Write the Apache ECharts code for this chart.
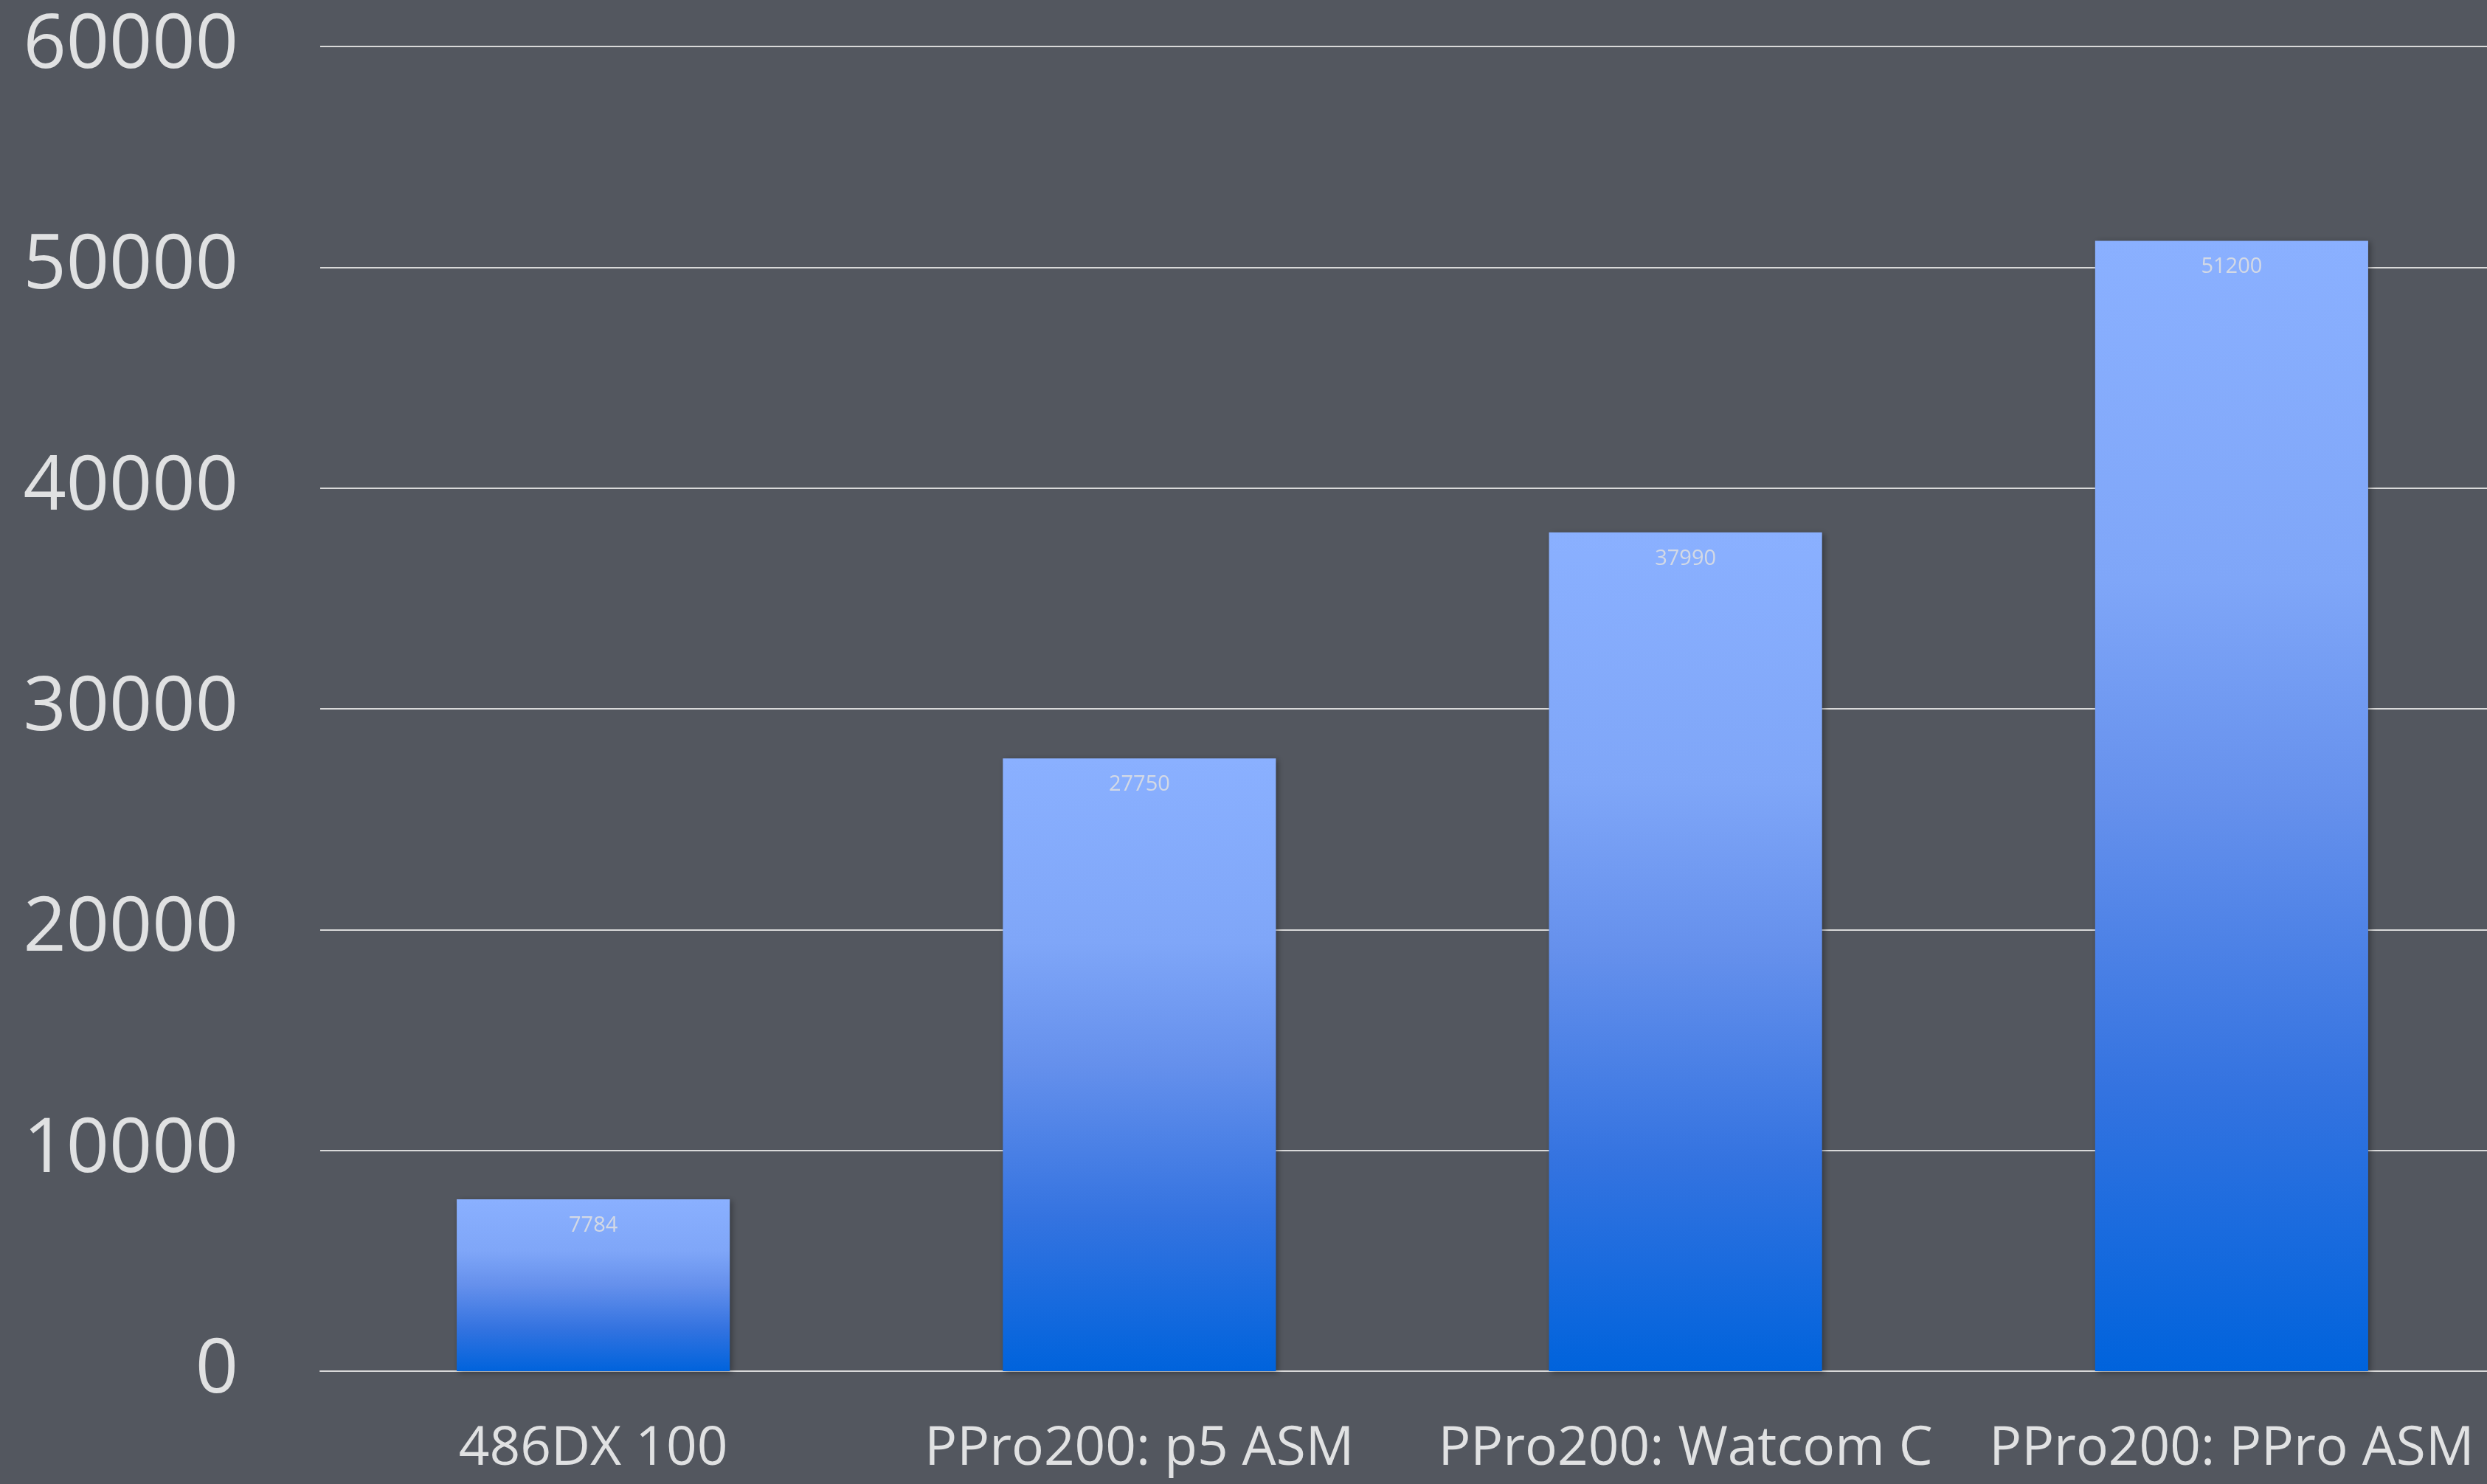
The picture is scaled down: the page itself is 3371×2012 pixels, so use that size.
<!DOCTYPE html>
<html>
<head>
<meta charset="utf-8">
<script src="https://cdn.jsdelivr.net/npm/echarts@6/dist/echarts.min.js"></script>
<style>
  html, body { margin: 0; padding: 0; background: #53575f; overflow: hidden; }
  #main { width: 3371px; height: 2012px; }
</style>
</head>
<body>
<div id="main"></div>
<script>
var categories = ['486DX 100', 'PPro200: p5 ASM', 'PPro200: Watcom C', 'PPro200: PPro ASM'];
var scores = [7784, 27750, 37990, 51200];
var yTicks = [0, 10000, 20000, 30000, 40000, 50000, 60000];

var myChart = echarts.init(document.getElementById('main'));

var option = {
    backgroundColor: '#53575f',
    animation: false,
    grid: {
        left: 434,
        width: 2961,
        top: 63,
        bottom: 153,
        containLabel: false,
        outerBoundsMode: 'none'
    },
    xAxis: {
        type: 'category',
        data: categories,
        axisLine: { show: true, lineStyle: { color: '#d9d9d9', width: 2 } },
        axisTick: { show: false },
        axisLabel: {
            interval: 0,
            color: '#e0e1e2',
            fontFamily: 'Open Sans',
            fontSize: 73,
            margin: 70
        }
    },
    yAxis: {
        type: 'value',
        min: yTicks[0],
        max: yTicks[yTicks.length - 1],
        interval: yTicks[1] - yTicks[0],
        axisLine: { show: false },
        axisTick: { show: false },
        splitLine: { lineStyle: { color: '#d9d9d9', width: 2 } },
        axisLabel: {
            color: '#e0e1e2',
            fontFamily: 'Open Sans',
            fontSize: 102,
            margin: 111,
            formatter: function (v) { return String(v); }
        }
    },
    series: [
        {
            type: 'bar',
            data: scores,
            barWidth: '50%',
            itemStyle: {
                color: new echarts.graphic.LinearGradient(0, 0, 0, 1, [
                    { offset: 0, color: '#8ab0ff' },
                    { offset: 0.3, color: '#7fa6f8' },
                    { offset: 0.5, color: '#6590ec' },
                    { offset: 0.75, color: '#3473e0' },
                    { offset: 1, color: '#0063dc' }
                ]),
                shadowColor: 'rgba(0,0,0,0.35)',
                shadowBlur: 8,
                shadowOffsetX: 3,
                shadowOffsetY: 2
            },
            label: {
                show: true,
                position: 'insideTop',
                distance: 21,
                color: 'rgba(225,225,225,0.85)',
                fontFamily: 'Open Sans',
                fontSize: 29
            }
        }
    ]
};

myChart.setOption(option, true);

window.addEventListener('resize', function () {
    myChart.resize();
});
</script>
</body>
</html>
